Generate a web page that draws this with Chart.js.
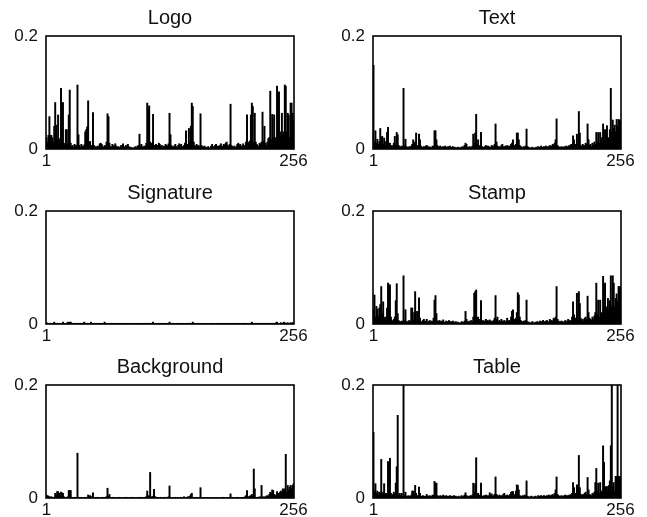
<!DOCTYPE html>
<html>
<head>
<meta charset="utf-8">
<script src="https://cdn.jsdelivr.net/npm/chart.js@4.4.1/dist/chart.umd.min.js"></script>
<style>
  body { margin: 0; background: #fff; overflow: hidden; width: 647px; height: 517px; }
  canvas { position: absolute; }
</style>
</head>
<body>
<canvas id="logo" width="314" height="169" style="left:0;top:0"></canvas>
<canvas id="text" width="314" height="169" style="left:327px;top:0"></canvas>
<canvas id="signature" width="314" height="169" style="left:0;top:175px"></canvas>
<canvas id="stamp" width="314" height="169" style="left:327px;top:175px"></canvas>
<canvas id="background" width="314" height="169" style="left:0;top:349px"></canvas>
<canvas id="table" width="314" height="169" style="left:327px;top:349px"></canvas>
<script>
// histogram bins 1..256
const bins = Array.from({ length: 256 }, (_, i) => String(i + 1));
const xTickLabels = ['1', '256'];
const yTicks = [0, 0.2];

const logoValues = [
  .02,.012,.024,.057,.024,.024,.02,.012,.04,.082,.042,.015,.06,.01,.018,.107,
  .012,.082,.01,.006,.034,.034,.008,.06,.104,.01,.004,.006,.003,.008,.005,.006,
  .113,.025,.006,.003,.008,.005,.004,.007,.03,.034,.039,.085,.012,.013,.006,.004,
  .064,.006,.003,.004,.002,.005,.003,.009,.01,.008,.004,.003,.006,.004,.012,.062,
  .057,.01,.004,.003,.008,.006,.004,.009,.005,.002,.004,.003,.002,.006,.003,.009,
  .004,.002,.006,.003,.008,.004,.002,.003,.001,.002,.001,.003,.004,.002,.005,.006,
  .026,.005,.008,.004,.003,.005,.004,.01,.081,.07,.076,.012,.008,.01,.061,.006,
  .004,.008,.006,.005,.01,.008,.004,.006,.003,.005,.004,.008,.006,.005,.009,.063,
  .025,.006,.004,.003,.005,.008,.004,.003,.006,.009,.005,.008,.004,.003,.006,.01,
  .032,.008,.006,.036,.012,.04,.081,.075,.012,.006,.004,.008,.005,.006,.004,.062,
  .006,.004,.003,.005,.002,.003,.002,.004,.001,.002,.005,.008,.004,.003,.006,.008,
  .003,.005,.004,.006,.009,.005,.004,.008,.006,.01,.012,.006,.004,.008,.079,.006,
  .004,.003,.005,.002,.004,.008,.01,.006,.008,.005,.004,.009,.006,.004,.012,.06,
  .012,.008,.014,.06,.081,.075,.01,.063,.012,.008,.006,.004,.01,.008,.012,.065,
  .014,.04,.01,.006,.012,.018,.02,.102,.016,.061,.02,.06,.014,.02,.111,.025,
  .101,.03,.02,.063,.025,.03,.113,.111,.03,.063,.06,.02,.081,.081,.063,.05
];

const textValues = [
  .148,.012,.032,.01,.017,.008,.013,.036,.02,.022,.008,.019,.006,.013,.029,.038,
  .008,.01,.004,.006,.003,.01,.022,.006,.029,.025,.006,.004,.003,.005,.004,.107,
  .006,.017,.004,.003,.002,.004,.003,.005,.008,.016,.012,.01,.028,.006,.004,.026,
  .016,.005,.003,.002,.004,.003,.005,.006,.003,.004,.002,.003,.002,.005,.004,.032,
  .032,.016,.006,.003,.004,.005,.002,.003,.004,.002,.005,.003,.002,.004,.003,.005,
  .002,.003,.004,.002,.003,.001,.002,.003,.002,.001,.003,.002,.004,.003,.006,.01,
  .008,.003,.002,.004,.003,.002,.005,.026,.01,.028,.061,.008,.016,.004,.006,.029,
  .004,.003,.002,.004,.006,.003,.005,.004,.002,.003,.006,.004,.005,.008,.044,.012,
  .005,.003,.004,.002,.006,.008,.004,.003,.005,.004,.006,.003,.005,.004,.008,.01,
  .016,.004,.006,.008,.028,.028,.016,.006,.004,.003,.002,.004,.003,.005,.035,.004,
  .003,.002,.001,.002,.003,.001,.002,.001,.003,.002,.004,.003,.002,.005,.003,.002,
  .004,.003,.005,.002,.004,.003,.006,.004,.005,.008,.006,.01,.016,.053,.006,.004,
  .003,.002,.004,.003,.002,.004,.003,.005,.004,.003,.006,.004,.008,.006,.023,.016,
  .008,.006,.026,.01,.066,.028,.006,.004,.008,.005,.006,.01,.008,.044,.016,.006,
  .008,.004,.01,.006,.012,.008,.029,.012,.029,.01,.029,.014,.02,.044,.012,.034,
  .016,.041,.02,.018,.034,.107,.03,.051,.036,.042,.03,.052,.04,.052,.051,.05
];

const signatureValues = [
  .002,.001,.001,0,.001,.001,0,.001,.003,.001,0,.001,.001,0,.001,.001,
  .001,.003,.001,0,.001,.001,.003,.002,.003,.003,.001,0,.001,.001,0,.001,
  .001,0,.001,.001,0,.001,.001,.003,.001,0,.001,.001,0,.001,.003,.001,
  0,.001,.001,0,.001,0,.001,.001,0,.001,0,.001,.003,.001,0,.001,
  0,.001,0,.001,.001,0,.001,0,.001,0,0,.001,0,.001,0,.001,
  0,.001,0,0,.001,0,.001,0,0,.001,0,0,.001,0,.001,0,
  .001,0,.001,0,.001,.001,0,.001,.001,0,.001,.001,0,.001,.003,.001,
  0,.001,0,.001,0,.001,0,.001,0,.001,0,.001,0,.001,.001,.003,
  .001,0,.001,0,.001,0,0,.001,0,.001,0,.001,0,.001,0,.001,
  0,.001,0,.001,.001,0,.001,.003,.001,0,.001,0,.001,0,0,.001,
  0,0,.001,0,0,.001,0,0,0,.001,0,0,.001,0,0,.001,
  0,.001,0,0,.001,0,.001,0,0,.001,0,.001,0,.001,0,.001,
  0,.001,0,.001,0,.001,0,.001,.001,0,.001,0,.001,.001,0,.001,
  .001,0,.001,.001,.003,.001,0,.001,.001,0,.001,.001,0,.001,.001,0,
  .001,.001,0,.001,.001,0,.001,.001,.001,0,.001,.001,.001,.002,.003,.001,
  .001,.001,.002,.001,.001,.003,.002,.001,.001,.002,.001,.001,.002,.001,.002,.002
];

const stampValues = [
  .025,.051,.012,.031,.026,.014,.028,.034,.066,.018,.039,.008,.012,.006,.028,.072,
  .069,.069,.012,.006,.004,.008,.012,.041,.071,.018,.006,.004,.003,.005,.004,.085,
  .006,.025,.004,.003,.005,.006,.003,.028,.028,.006,.02,.057,.008,.022,.005,.046,
  .01,.004,.003,.006,.008,.004,.005,.008,.003,.004,.006,.003,.005,.004,.01,.042,
  .05,.018,.005,.004,.006,.003,.005,.004,.007,.003,.002,.005,.003,.004,.006,.003,
  .004,.002,.005,.003,.002,.004,.001,.003,.002,.001,.002,.004,.003,.002,.005,.022,
  .008,.004,.003,.005,.002,.006,.004,.012,.054,.057,.06,.01,.012,.005,.008,.041,
  .004,.006,.003,.005,.008,.004,.006,.003,.007,.004,.005,.003,.006,.01,.05,.008,
  .012,.004,.006,.003,.008,.005,.004,.006,.003,.005,.01,.004,.006,.003,.012,.022,
  .025,.008,.006,.01,.02,.055,.051,.012,.006,.004,.003,.005,.004,.006,.042,.004,
  .002,.003,.001,.002,.004,.002,.001,.003,.002,.004,.003,.002,.005,.004,.003,.006,
  .004,.003,.005,.006,.004,.003,.008,.005,.006,.004,.01,.008,.012,.066,.008,.005,
  .004,.003,.005,.004,.002,.004,.006,.003,.005,.008,.004,.006,.005,.012,.039,.016,
  .01,.008,.054,.02,.057,.036,.01,.006,.008,.005,.01,.012,.008,.049,.02,.01,
  .008,.006,.012,.008,.014,.02,.072,.016,.042,.012,.042,.018,.02,.084,.025,.072,
  .03,.02,.045,.025,.041,.085,.03,.085,.072,.03,.045,.053,.04,.066,.066,.066
];

const backgroundValues = [
  .004,.004,.003,.002,.001,.002,.001,0,.001,.008,.004,.011,.011,.008,.003,.01,
  .009,.008,.002,.001,0,.001,.002,.013,.013,.013,.001,0,0,.001,0,0,
  .079,0,0,.001,0,0,0,0,.001,0,.001,.005,.002,.004,.001,.002,
  .009,.001,0,0,0,.001,0,0,0,0,.001,0,0,.001,.002,.017,
  .003,.006,.001,0,0,.001,0,0,0,0,0,.001,0,0,0,0,
  0,0,.001,0,0,0,0,0,.001,0,0,0,0,0,0,.001,
  0,0,.001,0,0,.001,0,.002,.012,.004,.002,.045,.002,.001,.003,.015,
  .002,0,.001,0,0,0,.001,0,0,0,.001,0,0,0,.002,.021,
  .001,0,0,0,0,.001,0,0,0,0,0,.001,0,0,.002,.001,
  0,.001,.002,.001,.003,.006,.008,.001,0,0,.001,0,0,0,.001,.018,
  0,0,0,0,0,0,0,0,0,0,0,0,0,0,0,0,
  0,0,0,0,0,0,.001,0,0,0,0,0,0,.001,.007,.001,
  0,0,0,0,0,.001,0,0,0,0,0,.001,0,.002,.004,.013,
  .002,.001,.003,.004,.006,.003,.051,.016,.001,0,.001,0,.002,.001,.022,.002,
  .001,.002,.001,.003,.004,.002,.006,.01,.008,.014,.013,.006,.004,.005,.011,.006,
  .008,.01,.012,.009,.016,.012,.016,.077,.01,.022,.014,.019,.022,.016,.022,.025
];

const tableValues = [
  .116,.012,.025,.008,.012,.006,.01,.008,.068,.006,.01,.025,.006,.008,.004,.064,
  .012,.07,.008,.004,.006,.01,.006,.026,.055,.146,.006,.008,.004,.008,.003,.2,
  .004,.01,.003,.002,.004,.002,.003,.005,.012,.012,.005,.022,.008,.004,.003,.019,
  .008,.003,.002,.004,.002,.003,.002,.006,.003,.002,.004,.002,.003,.005,.004,.029,
  .026,.026,.004,.003,.002,.004,.003,.002,.005,.003,.002,.004,.002,.003,.002,.004,
  .002,.003,.001,.004,.002,.003,.001,.002,.003,.001,.002,.004,.002,.003,.005,.009,
  .004,.002,.003,.002,.004,.003,.005,.026,.01,.025,.071,.006,.008,.004,.005,.026,
  .003,.002,.004,.003,.005,.002,.004,.003,.009,.005,.007,.003,.004,.006,.037,.006,
  .004,.003,.005,.002,.004,.003,.006,.008,.003,.004,.005,.002,.004,.006,.01,.011,
  .011,.006,.004,.012,.023,.022,.014,.004,.003,.002,.004,.003,.005,.004,.03,.003,
  .002,.001,.002,.003,.001,.002,.001,.003,.002,.001,.004,.002,.003,.004,.002,.003,
  .004,.003,.002,.004,.003,.005,.003,.004,.005,.006,.004,.008,.014,.037,.006,.004,
  .003,.002,.004,.003,.002,.004,.005,.003,.004,.003,.005,.004,.006,.008,.027,.018,
  .006,.008,.023,.022,.075,.018,.006,.004,.006,.005,.008,.01,.006,.036,.014,.006,
  .005,.004,.008,.006,.01,.027,.052,.012,.026,.008,.027,.012,.01,.092,.063,.012,
  .02,.02,.01,.022,.03,.092,.2,.02,.027,.012,.038,.038,.2,.038,.038,.038
];

// draws the closed box round the plot area
const frameBox = {
  id: 'frameBox',
  afterDatasetsDraw(chart) {
    const a = chart.chartArea;
    const c = chart.ctx;
    c.save();
    c.strokeStyle = '#000';
    c.lineWidth = 1.6;
    c.strokeRect(a.left, a.top, a.right - a.left, a.bottom - a.top);
    c.restore();
  }
};

const fontFamily = 'Liberation Sans, Arial, sans-serif';

function makeHist(id, title, values) {
  return new Chart(document.getElementById(id), {
    type: 'bar',
    data: {
      labels: bins,
      datasets: [{
        data: values,
        backgroundColor: '#000',
        borderWidth: 0,
        inflateAmount: 0.5,
        barPercentage: 1,
        categoryPercentage: 1
      }]
    },
    options: {
      responsive: false,
      animation: false,
      layout: { padding: { left: 0, right: 20, top: 3, bottom: 0 } },
      plugins: {
        legend: { display: false },
        tooltip: { enabled: false },
        title: {
          display: true,
          text: title,
          fullSize: false,
          color: '#111',
          font: { family: fontFamily, size: 20, weight: 'normal' },
          padding: { top: 3, bottom: 6 }
        }
      },
      scales: {
        x: {
          grid: { display: false, drawTicks: false },
          border: { display: false },
          ticks: {
            autoSkip: false,
            maxRotation: 0,
            color: '#111',
            padding: 2,
            font: { family: fontFamily, size: 17 },
            callback: (v, i) => (i === 0 ? xTickLabels[0] : i === bins.length - 1 ? xTickLabels[1] : '')
          },
          afterFit: s => { s.height = 20; }
        },
        y: {
          min: yTicks[0],
          max: yTicks[1],
          grid: { display: false, drawTicks: false },
          border: { display: false },
          ticks: {
            stepSize: 0.2,
            color: '#111',
            padding: 8,
            font: { family: fontFamily, size: 17 },
            callback: v => String(+v.toFixed(1))
          },
          afterFit: s => { s.width = 46; }
        }
      }
    },
    plugins: [frameBox]
  });
}

makeHist('logo', 'Logo', logoValues);
makeHist('text', 'Text', textValues);
makeHist('signature', 'Signature', signatureValues);
makeHist('stamp', 'Stamp', stampValues);
makeHist('background', 'Background', backgroundValues);
makeHist('table', 'Table', tableValues);
</script>
</body>
</html>
